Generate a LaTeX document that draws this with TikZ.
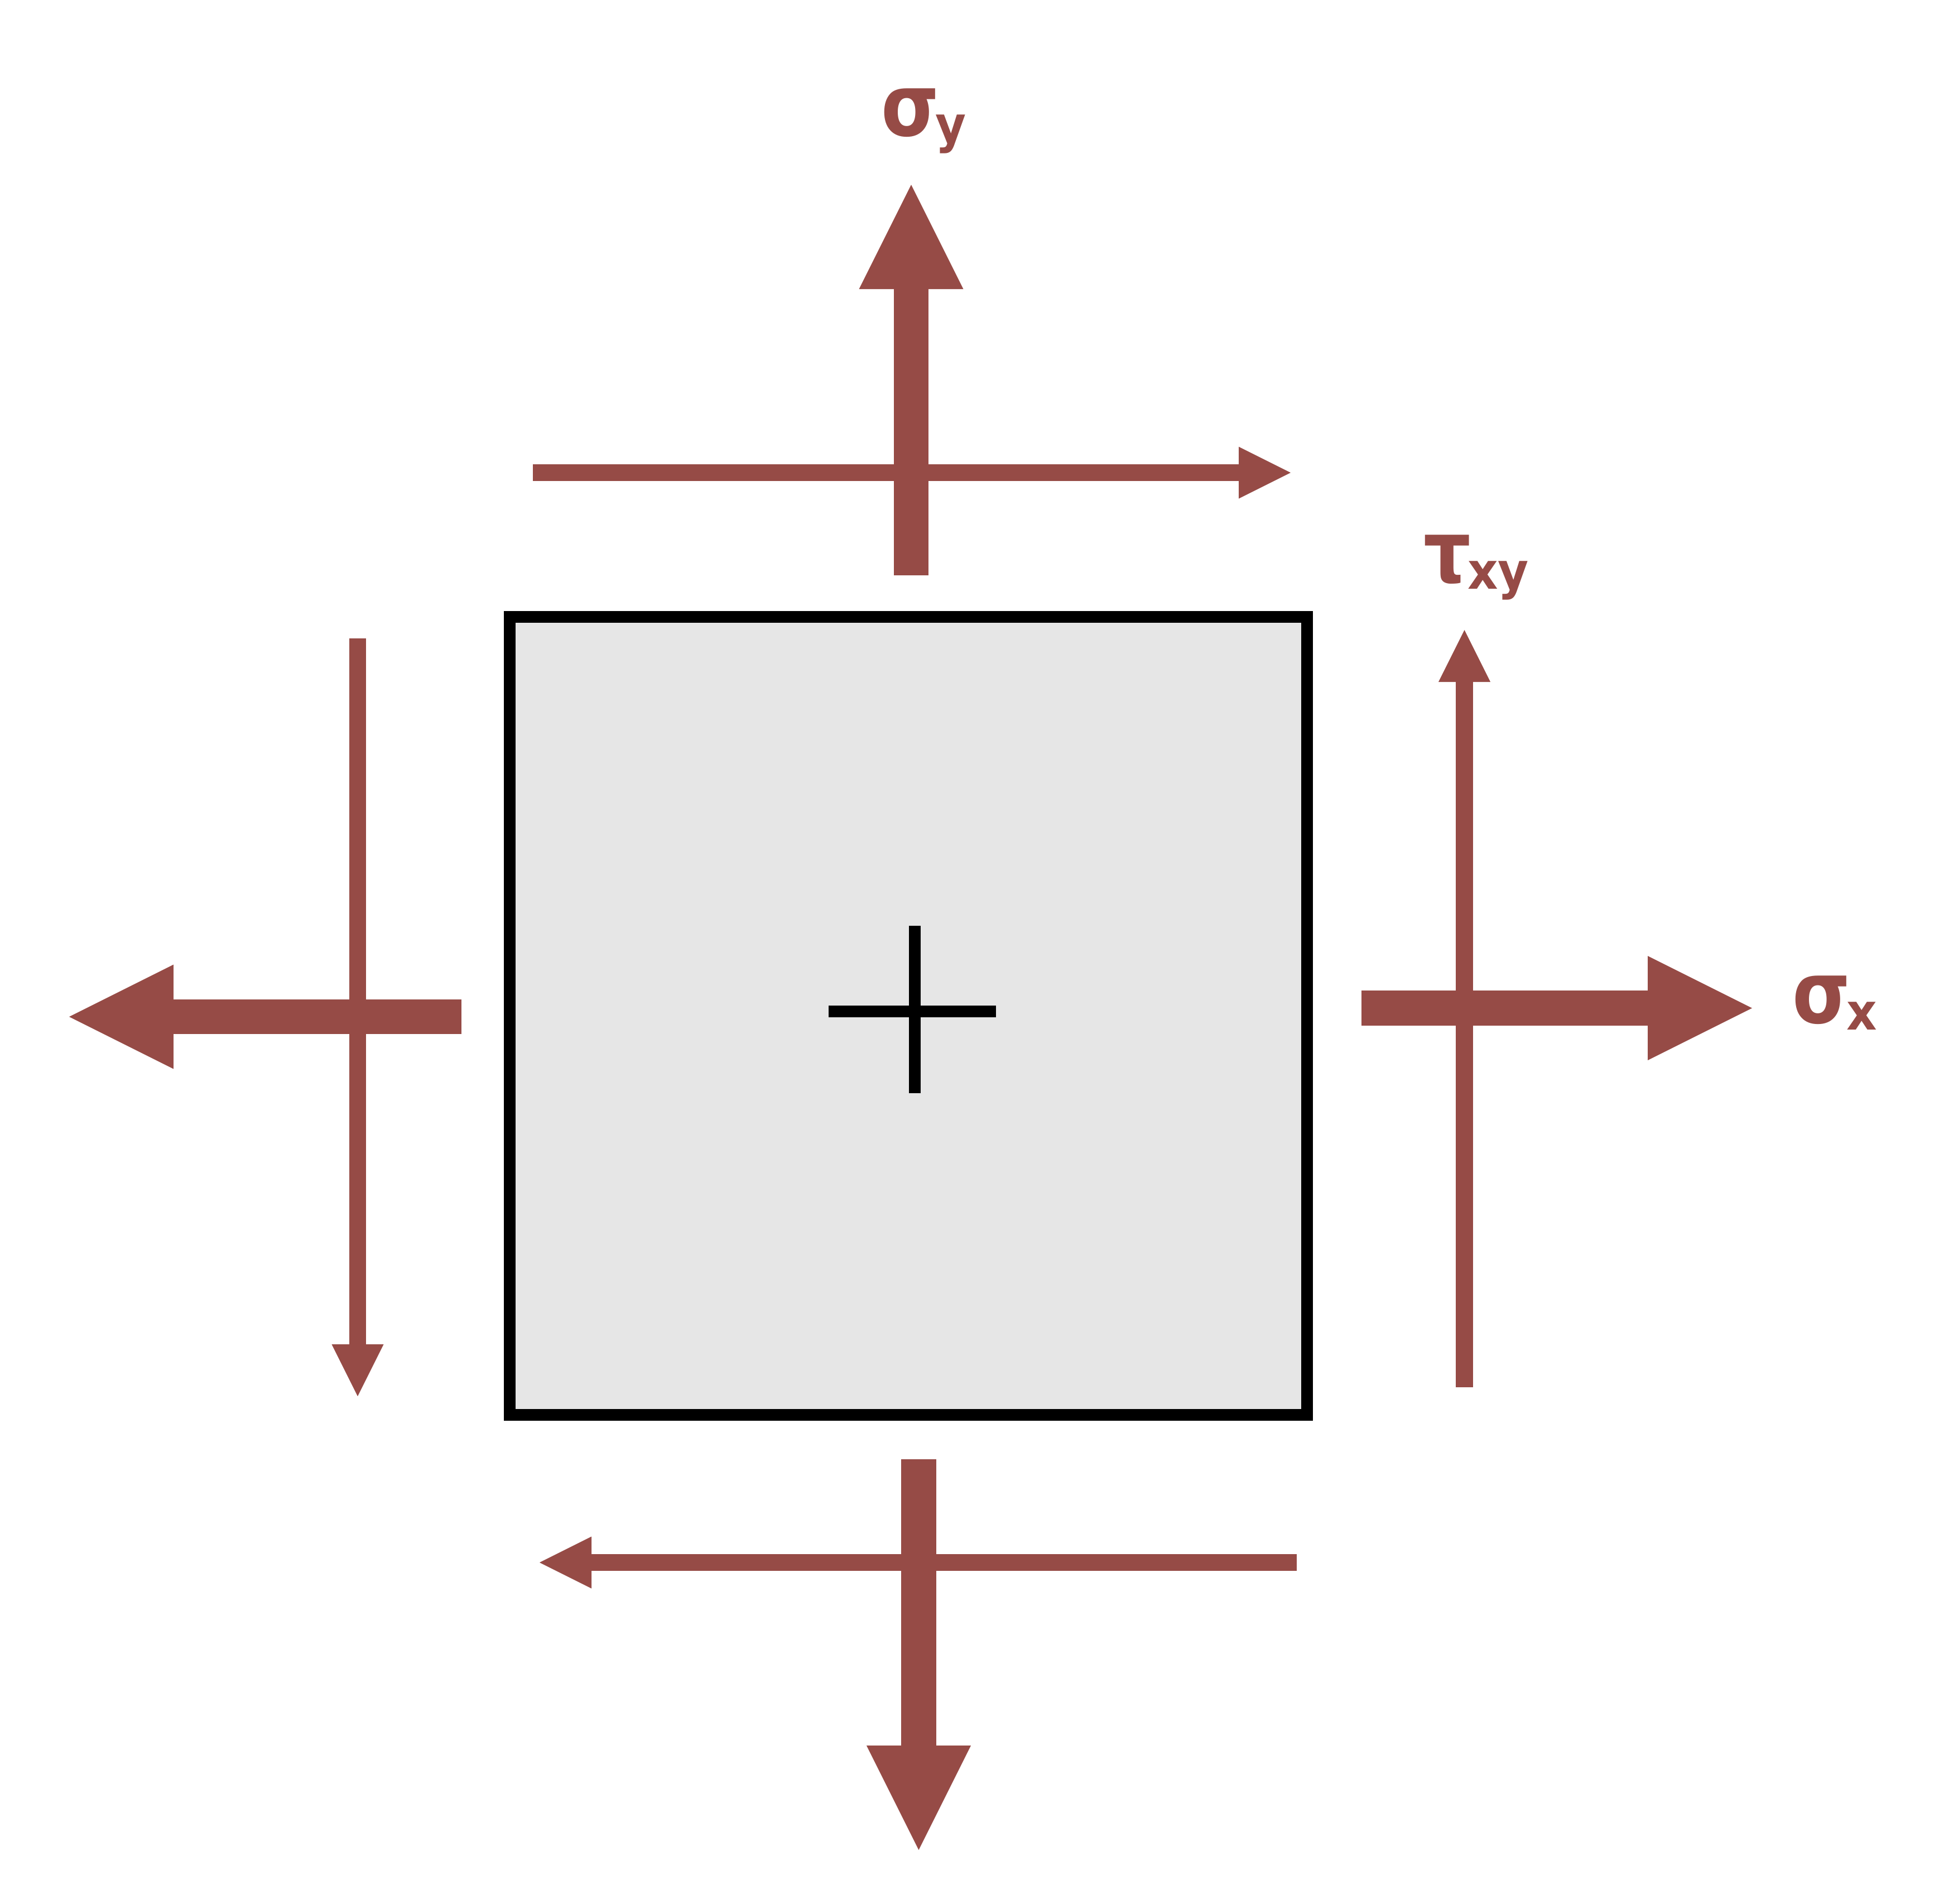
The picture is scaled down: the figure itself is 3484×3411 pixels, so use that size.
\documentclass[tikz,border=0pt]{standalone}
\usepackage{fontspec}
\setmainfont{DejaVu Sans}
\newfontfamily\greekface[FakeStretch=0.86]{DejaVu Sans}
\newfontfamily\subface[FakeStretch=0.93]{DejaVu Sans}
\usetikzlibrary{arrows.meta}

\definecolor{stressred}{RGB}{150,75,70}
\definecolor{elemgray}{RGB}{230,230,230}

\newcommand{\stresslabel}[2]{{\greekface\fontsize{15.5}{15.5}\selectfont\bfseries #1\kern-0.6pt\raisebox{-1.2pt}{\subface\fontsize{9.1}{9.1}\selectfont\bfseries #2}}}

\begin{document}
\begin{tikzpicture}
  [x=0.1pt,y=-0.1pt,
   sigmaarrow/.style={draw=stressred,line width=6.27pt,-{Triangle[length=18.7pt,width=18.7pt,line width=0pt]}},
   tauarrow/.style={draw=stressred,line width=3.07pt,-{Triangle[length=9.3pt,width=9.3pt,line width=0pt]}},
   stresslbl/.style={text=stressred,inner sep=0pt,anchor=base west}]

  \useasboundingbox (0,0) rectangle (3484,3411);

  % centre of the element (the cross)
  \def\X{1639}
  \def\Y{1812}

  \node (elem) [draw,line width=2.1pt,fill=elemgray,inner sep=0pt,
    minimum width=143pt,minimum height=142.95pt] at (\X -11,\Y +8.25) {};

  \draw[line width=2.1pt] (\X -154,\Y) -- (\X +146,\Y);
  \draw[line width=2.1pt] (\X,\Y -153) -- (\X,\Y +147);

  % top face
  \coordinate (sy top tail) at (\X -6,\Y -781);
  \coordinate (sy top tip)  at (\X -6,\Y -1481);
  \coordinate (t top tail)  at (\X -684,\Y -965);
  \coordinate (t top tip)   at (\X +674,\Y -965);

  \draw[tauarrow]   (t top tail) -- (t top tip);
  \draw[sigmaarrow] (sy top tail) -- (sy top tip);

  % right face
  \coordinate (sx right tail) at (\X +801,\Y -5.5);
  \coordinate (sx right tip)  at (\X +1501,\Y -5.5);
  \coordinate (t right tail)  at (\X +985.5,\Y +674);
  \coordinate (t right tip)   at (\X +985.5,\Y -683);

  \draw[sigmaarrow] (sx right tail) -- (sx right tip);
  \draw[tauarrow]   (t right tail) -- (t right tip);

  % left face
  \coordinate (sx left tail) at (\X -812,\Y +10);
  \coordinate (sx left tip)  at (\X -1515,\Y +10);
  \coordinate (t left tail)  at (\X -998,\Y -668);
  \coordinate (t left tip)   at (\X -998,\Y +690);

  \draw[sigmaarrow] (sx left tail) -- (sx left tip);
  \draw[tauarrow]   (t left tail) -- (t left tip);

  % bottom face
  \coordinate (sy bot tail) at (\X +7.5,\Y +803);
  \coordinate (sy bot tip)  at (\X +7.5,\Y +1503);
  \coordinate (t bot tail)  at (\X +685,\Y +988);
  \coordinate (t bot tip)   at (\X -672,\Y +988);

  \draw[tauarrow]   (t bot tail) -- (t bot tip);
  \draw[sigmaarrow] (sy bot tail) -- (sy bot tip);

  % labels
  \node[stresslbl] (sy label)  at (1577,243)  {\stresslabel{σ}{y}};
  \node[stresslbl] (txy label) at (2549,1043) {\stresslabel{τ}{xy}};
  \node[stresslbl] (sx label)  at (3210,1833) {\stresslabel{σ}{x}};
\end{tikzpicture}
\end{document}
